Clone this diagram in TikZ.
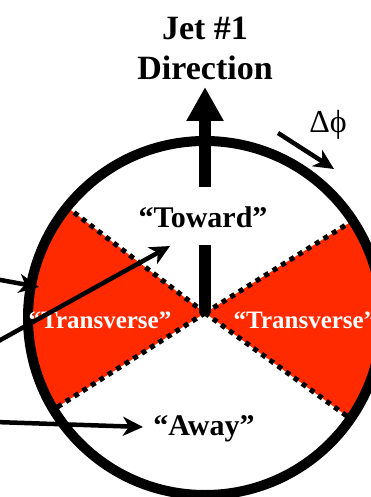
\documentclass[tikz,border=0pt]{standalone}
\usepackage{fontspec}
\setmainfont{Liberation Serif}
\usetikzlibrary{arrows.meta}
\definecolor{sectorred}{RGB}{255,42,0}
\begin{document}
\begin{tikzpicture}[x=1pt,y=-1pt,
  boundary/.style={line width=5pt, dash pattern=on 5pt off 5pt},
  pointer/.style={line width=4.5pt, -{Stealth[length=20pt,width=19pt,inset=6pt]}},
  jetarrow/.style={line width=12pt, -{Triangle[length=34pt,width=35pt]}},
  rim/.style={line width=10pt},
  titletext/.style={font=\bfseries\fontsize{34}{40}\selectfont, inner sep=0pt, anchor=base},
  regiontext/.style={font=\bfseries\fontsize{30}{34}\selectfont, inner sep=0pt, anchor=base},
  transtext/.style={font=\bfseries\fontsize{25}{30}\selectfont, inner sep=0pt, anchor=base, text=white},
  phitext/.style={font=\fontsize{32}{36}\selectfont, inner sep=0pt, anchor=base}]
\useasboundingbox (0,0) rectangle (371,497);
\clip (0,0) rectangle (371,497);
\coordinate (o) at (205,318);
\coordinate (c) at (205,313);
% red sectors and dotted boundaries, kept inside the rim
\begin{scope}
  \clip (o) circle[radius=177pt];
  \fill[sectorred] (c) -- +(-36:250pt) -- +(32:250pt) -- cycle;
  \fill[sectorred] (c) -- +(142.5:250pt) -- +(212.5:250pt) -- cycle;
  \foreach \a in {32,142.5,212.5,-36} \draw[boundary] (c) -- ++(\a:250pt);
\end{scope}
% rim
\draw[rim] (o) circle[radius=177pt];
% jet arrow
\coordinate (jettip) at (205,87);
\draw[jetarrow] (c) -- (jettip);
% labels
\node[titletext] (jet) at (205,40) {Jet \#1};
\node[titletext] (dir) at (205,80) {Direction};
\node[regiontext, fill=white, text height=40pt, text depth=18pt] (toward) at (203,227) {“Toward”};
\node[transtext] (transl) at (100,328) {“Transverse”};
\node[transtext] (transr) at (305,328) {“Transverse”};
\node[regiontext] (away) at (204,435) {“Away”};
\node[phitext] (dphi) at (328,133) {Δϕ};
% delta phi arrow
\coordinate (p1) at (278,133);
\coordinate (p2) at (334,169);
\draw[pointer] (p1) -- (p2);
% left pointers
\coordinate (s1) at (-5,279);
\coordinate (t1) at (39,287);
\coordinate (s2) at (-5,343);
\coordinate (t2) at (170,246);
\coordinate (s3) at (-5,422);
\coordinate (t3) at (143,427);
\draw[pointer] (s1) -- (t1);
\draw[pointer] (s2) -- (t2);
\draw[pointer] (s3) -- (t3);
\end{tikzpicture}
\end{document}
